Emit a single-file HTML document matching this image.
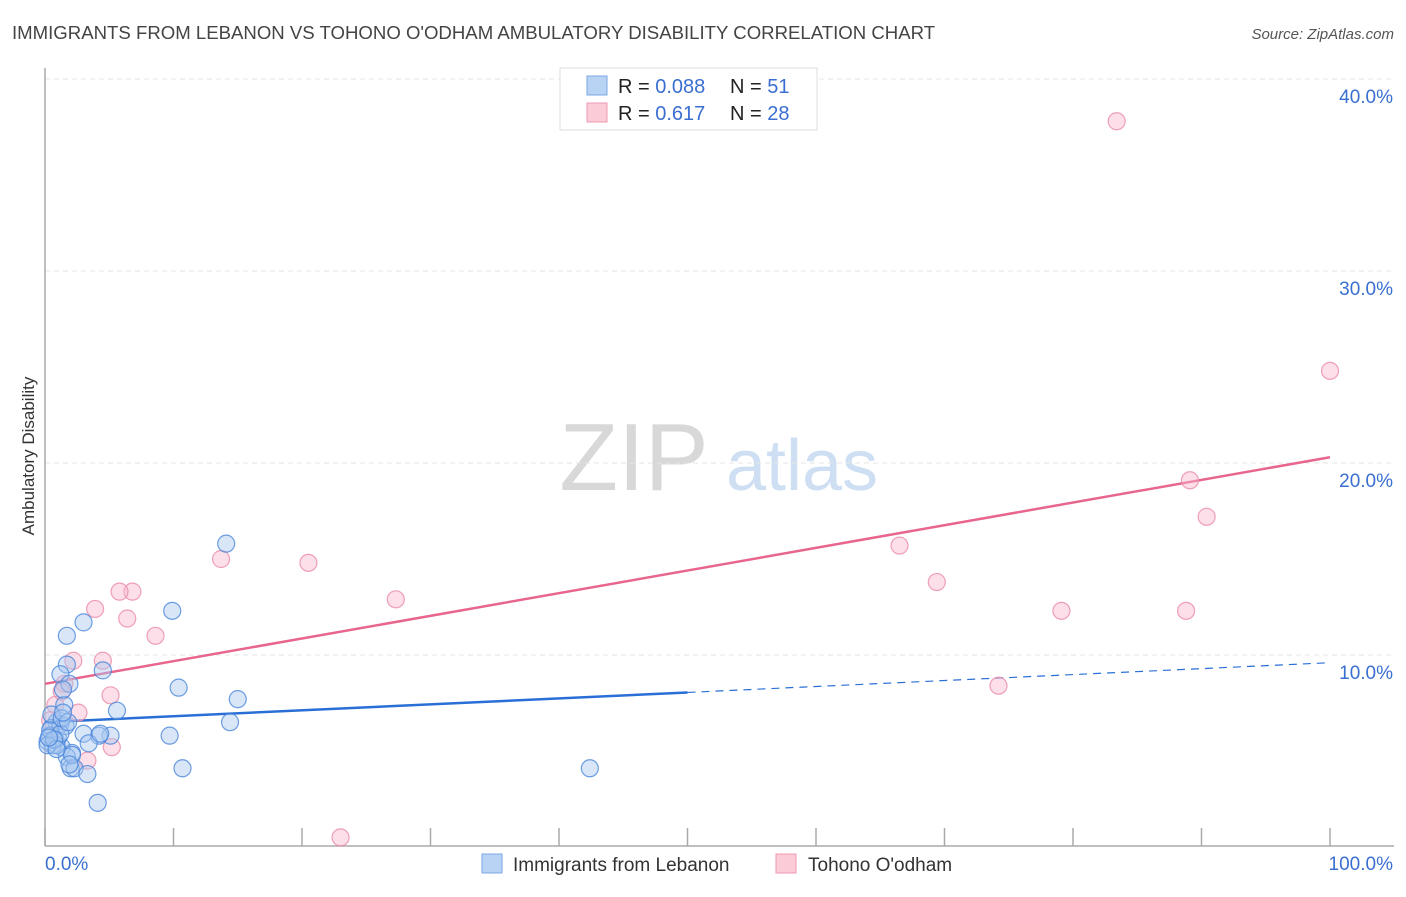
<!DOCTYPE html>
<html><head><meta charset="utf-8"><style>
body{margin:0;background:#fff;font-family:"Liberation Sans",sans-serif;}
svg text{font-family:"Liberation Sans",sans-serif;}
</style></head><body>
<svg id="chart" width="1406" height="892" viewBox="0 0 1406 892" xmlns="http://www.w3.org/2000/svg">
<text x="12" y="39" font-size="18.6" fill="#444">IMMIGRANTS FROM LEBANON VS TOHONO O'ODHAM AMBULATORY DISABILITY CORRELATION CHART</text>
<text x="1394" y="39" font-size="15" fill="#555" text-anchor="end" font-style="italic">Source: ZipAtlas.com</text>
<g>
<text x="634" y="490" font-size="96" fill="#d8d8d8" text-anchor="middle" font-family="Liberation Serif, serif">ZIP</text>
<text x="802" y="490" font-size="72" fill="#cfdff3" text-anchor="middle">atlas</text>
</g>
<g id="grid"></g>
<g id="axes"></g>
<g id="trends"></g>
<g id="points"></g>
<text transform="translate(34,456) rotate(-90)" font-size="17" fill="#333" text-anchor="middle">Ambulatory Disability</text>
<g>
<rect x="560" y="68" width="257" height="62" fill="#fff" stroke="#ddd"/>
<rect x="587" y="76" width="20" height="19" fill="#b9d3f5" stroke="#7aa7e6"/>
<rect x="587" y="103" width="20" height="19" fill="#fbcbd8" stroke="#ef9ab2"/>
<text x="618" y="93" font-size="20" fill="#222">R = <tspan fill="#3a6fd1">0.088</tspan></text>
<text x="730" y="93" font-size="20" fill="#222">N = <tspan fill="#3a6fd1"> 51</tspan></text>
<text x="618" y="120" font-size="20" fill="#222">R = <tspan fill="#3a6fd1"> 0.617</tspan></text>
<text x="730" y="120" font-size="20" fill="#222">N = <tspan fill="#3a6fd1">28</tspan></text>
</g>
<g>
<rect x="482" y="854" width="20" height="19" fill="#b9d3f5" stroke="#7aa7e6"/>
<text x="513" y="871" font-size="19" fill="#333">Immigrants from Lebanon</text>
<rect x="776" y="854" width="20" height="19" fill="#fbcbd8" stroke="#ef9ab2"/>
<text x="808" y="871" font-size="19" fill="#333">Tohono O'odham</text>
</g>
</svg>
<script>
const yTicks=[10,20,30,40];
const yTickLabels=["10.0%","20.0%","30.0%","40.0%"];
const xTicks=[0,10,20,30,40,50,60,70,80,90,100];
const blueX=[14.1,9.9,3.0,1.7,1.7,1.2,1.9,4.5,10.4,15.0,5.6,1.5,1.4,14.4,9.7,5.1,4.2,3.0,0.9,0.5,0.8,1.3,2.1,3.4,1.7,2.0,2.3,3.3,10.7,4.1,42.4,0.4,0.2,0.6,1.0,1.2,1.6,2.1,1.9,0.4,0.9,0.2,0.5,1.2,1.3,4.3,0.7,0.9,0.3,1.8,1.4];
const blueY=[15.8,12.3,11.7,11.0,9.5,9.0,8.5,9.2,8.3,7.7,7.1,7.4,8.2,6.5,5.8,5.8,5.8,5.9,6.5,6.2,5.6,5.2,4.9,5.4,4.7,4.1,4.1,3.8,4.1,2.3,4.1,5.8,5.5,5.3,5.7,6.4,6.3,4.8,4.3,6.1,5.3,5.3,6.9,5.9,6.7,5.9,5.6,5.1,5.7,6.5,7.0];
const pinkX=[83.4,100,89.1,90.4,66.5,69.4,79.1,88.8,74.2,13.7,20.5,27.3,6.8,5.8,3.9,6.4,8.6,4.5,2.2,1.5,5.1,2.6,0.8,5.2,3.3,23.0,0.4,1.3];
const pinkY=[37.8,24.8,19.1,17.2,15.7,13.8,12.3,12.3,8.4,15.0,14.8,12.9,13.3,13.3,12.4,11.9,11.0,9.7,9.7,8.5,7.9,7.0,7.4,5.2,4.5,0.5,6.6,8.1];
const blueTrend=[6.5,9.6];
const pinkTrend=[8.5,20.3];
const X0=45,X1=1330,Y0=847,PY=19.2;
const sx=v=>X0+(X1-X0)*v/100;
const sy=v=>Y0-v*PY;
const NS="http://www.w3.org/2000/svg";
function mk(tag,attrs,parent){const e=document.createElementNS(NS,tag);for(const k in attrs)e.setAttribute(k,attrs[k]);document.getElementById(parent).appendChild(e);return e;}
yTicks.forEach((t,i)=>{
  const g=mk("line",{x1:X0,x2:1394,y1:sy(t),y2:sy(t),stroke:"#e6e6e6","stroke-dasharray":"5,4"},"grid");
  
  
  const l=mk("text",{x:1393,y:sy(t)+24,"font-size":19,fill:"#3a6fd1","text-anchor":"end"},"grid");
  l.textContent=yTickLabels[i];
  
  
});
const ax=mk("line",{x1:X0,x2:X0,y1:68,y2:Y0-1,stroke:"#aaa","stroke-width":1.5},"axes");


const bx=mk("line",{x1:X0,x2:1394,y1:Y0-1,y2:Y0-1,stroke:"#aaa","stroke-width":1.5},"axes");


xTicks.forEach(t=>{
  const tk=mk("line",{x1:sx(t),x2:sx(t),y1:828,y2:Y0-1,stroke:"#aaa","stroke-width":1.5},"axes");
  
  
});
const xl0=mk("text",{x:45,y:870,"font-size":19,fill:"#3a6fd1"},"axes");xl0.textContent="0.0%";


const xl1=mk("text",{x:1393,y:870,"font-size":19,fill:"#3a6fd1","text-anchor":"end"},"axes");xl1.textContent="100.0%";


function pts(xs,ys,fill,stroke,name){
  xs.forEach((x,i)=>{
    const c=mk("circle",{cx:sx(x),cy:sy(ys[i]),r:8.5,fill:fill,"fill-opacity":0.45,stroke:stroke,"stroke-opacity":0.8,"stroke-width":1.2},"points");
    
    
  });
}
pts(pinkX,pinkY,"#f8b8cb","#ea8aa8","tohono-point");
pts(blueX,blueY,"#a9c8f0","#4a86db","lebanon-point");
const bm=blueTrend[0]+(blueTrend[1]-blueTrend[0])*0.5;
const t1=mk("line",{x1:sx(0),y1:sy(blueTrend[0]),x2:sx(50),y2:sy(bm),stroke:"#2a6fd6","stroke-width":2.5},"trends");


const t2=mk("line",{x1:sx(50),y1:sy(bm),x2:sx(100),y2:sy(blueTrend[1]),stroke:"#2a6fd6","stroke-width":1.2,"stroke-dasharray":"8,6"},"trends");


const t3=mk("line",{x1:sx(0),y1:sy(pinkTrend[0]),x2:sx(100),y2:sy(pinkTrend[1]),stroke:"#e8668e","stroke-width":2.5},"trends");


</script>
</body></html>
